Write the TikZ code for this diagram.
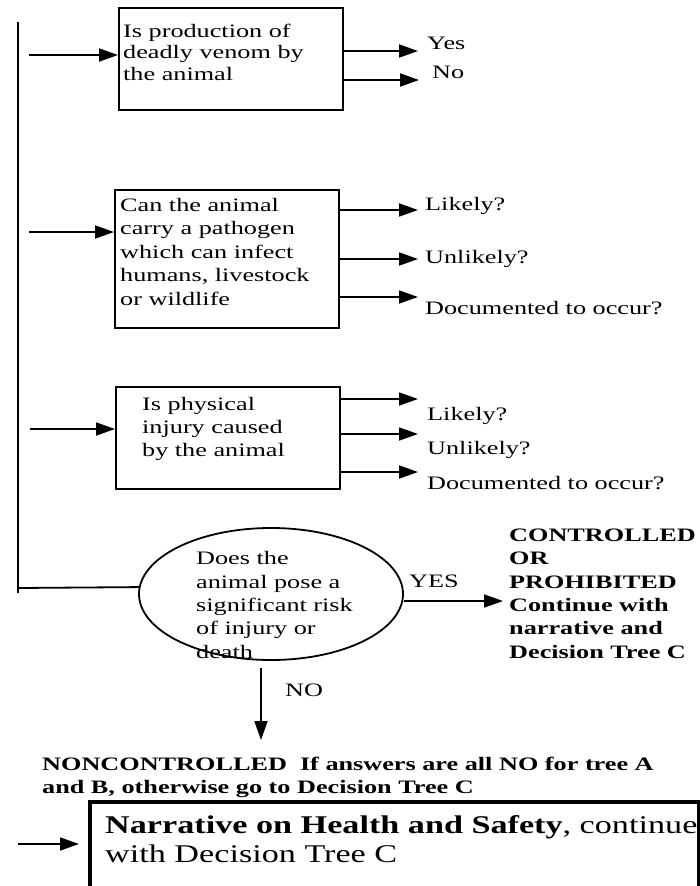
\documentclass[tikz,border=0pt]{standalone}
\usepackage{fontspec}
\setmainfont{Liberation Serif}[FakeStretch=1.38]
\newfontfamily\bigserif{Liberation Serif}[FakeStretch=1.34]
\usetikzlibrary{arrows.meta,shapes.geometric}
\tikzset{
  box/.style={draw, line width=1.8pt, inner sep=0pt, anchor=north west},
  txt/.style={inner sep=0pt, anchor=base west, align=left, font=\fontsize{19}{23.5}\selectfont},
  arr/.style={line width=1.8pt, -{Triangle[length=19pt,width=13pt]}},
  ln/.style={line width=1.8pt}
}
\begin{document}
\begin{tikzpicture}[x=1pt,y=-1pt]
\clip (0,0) rectangle (700,886);
% left spine
\coordinate (vtop) at (18,22);
\coordinate (vbot) at (18,593);
\draw[ln] (vtop) -- (vbot);

% box 1 (text nodes anchored at the baseline of their last line)
\node[box, minimum width=224pt, minimum height=102pt] (b1) at (118,7) {};
\node[txt, font=\fontsize{19}{21.5}\selectfont] (t1) at (123,80) {Is production of\\deadly venom by\\the animal};
\coordinate (a1) at (29,55);
\draw[arr] (a1) -- (a1 -| b1.west);
\coordinate (e1y) at (418,51);
\coordinate (e1n) at (419,80);
\draw[arr] (b1.east |- e1y) -- (e1y);
\draw[arr] (b1.east |- e1n) -- (e1n);
\node[txt] (lyes) at (427,49) {Yes};
\node[txt] (lno) at (432,78) {No};

% box 2
\node[box, minimum width=224pt, minimum height=138pt] (b2) at (114,189) {};
\node[txt] (t2) at (120,305) {Can the animal\\carry a pathogen\\which can infect\\humans, livestock\\or wildlife};
\coordinate (a2) at (29,232);
\draw[arr] (a2) -- (a2 -| b2.west);
\coordinate (e2a) at (418,210);
\coordinate (e2b) at (418,259);
\coordinate (e2c) at (418,297);
\draw[arr] (b2.east |- e2a) -- (e2a);
\draw[arr] (b2.east |- e2b) -- (e2b);
\draw[arr] (b2.east |- e2c) -- (e2c);
\node[txt] (l2a) at (425,210) {Likely?};
\node[txt] (l2b) at (425,263) {Unlikely?};
\node[txt] (l2c) at (425,314) {Documented to occur?};

% box 3
\node[box, minimum width=224pt, minimum height=102pt] (b3) at (115,386) {};
\node[txt, font=\fontsize{19}{23}\selectfont] (t3) at (142,456) {Is physical\\injury caused\\by the animal};
\coordinate (a3) at (30,429);
\draw[arr] (a3) -- (a3 -| b3.west);
\coordinate (e3a) at (418,399);
\coordinate (e3b) at (418,434);
\coordinate (e3c) at (418,472);
\draw[arr] (b3.east |- e3a) -- (e3a);
\draw[arr] (b3.east |- e3b) -- (e3b);
\draw[arr] (b3.east |- e3c) -- (e3c);
\node[txt] (l3a) at (427,420) {Likely?};
\node[txt] (l3b) at (427,454) {Unlikely?};
\node[txt] (l3c) at (427,489) {Documented to occur?};

% ellipse
\node[draw, ellipse, line width=1.8pt, minimum width=264pt, minimum height=132pt, inner sep=0pt] (ell) at (271,594) {};
\node[txt, font=\fontsize{19}{23.3}\selectfont] (te) at (196,658) {Does the\\animal pose a\\significant risk\\of injury or\\death};
\coordinate (hj) at (18,588);
\draw[ln] (hj) -- (ell.177);

% YES branch
\coordinate (ye) at (503,601);
\draw[arr] (ell.east |- ye) -- (ye);
\node[txt] (lyes2) at (409,587) {YES};
\node[txt, font=\bfseries\fontsize{19}{23.3}\selectfont] (ctrl) at (509,658) {CONTROLLED\\OR\\PROHIBITED\\Continue with\\narrative and\\Decision Tree C};

% NO branch
\coordinate (nos) at (261,668);
\coordinate (noe) at (261,740);
\draw[arr] (nos) -- (noe);
\node[txt] (lno2) at (285,696) {NO};

% bottom
\node[txt, font=\bfseries\fontsize{19}{23}\selectfont] (nonc) at (42,793) {NONCONTROLLED\ \ If answers are all NO for tree A\\and B, otherwise go to Decision Tree C};
\node[box, line width=4pt, minimum width=609pt, minimum height=100pt] (nb) at (88,800) {};
\node[txt, font=\bigserif\fontsize{25.5}{29}\selectfont] (tn) at (105,862) {\textbf{Narrative on Health and Safety}, continue\\with Decision Tree C};
\coordinate (na) at (18,844);
\coordinate (nae) at (79,844);
\draw[arr] (na) -- (nae);
\end{tikzpicture}
\end{document}
